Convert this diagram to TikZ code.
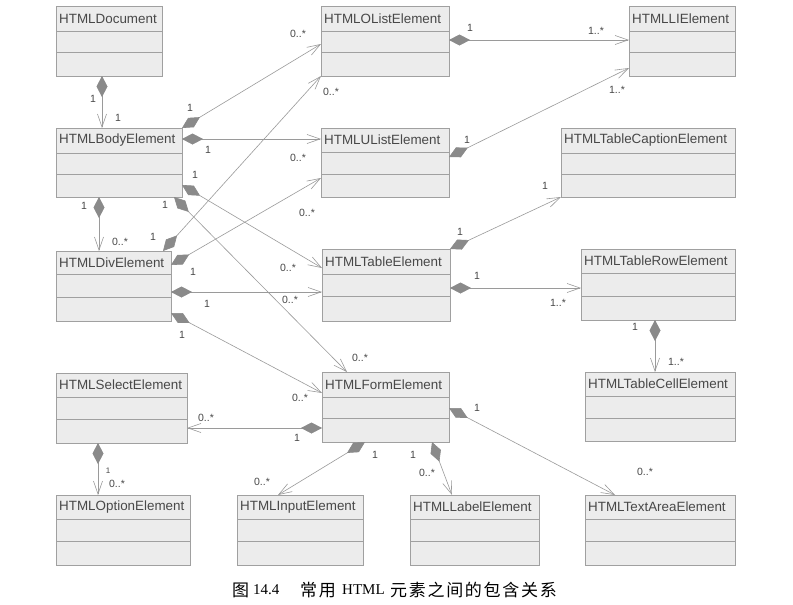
\documentclass[tikz,border=0pt]{standalone}
\usepackage{fontspec}
\setmainfont{Liberation Sans}
\newfontfamily\cjkcap[LetterSpace=10]{Noto Sans CJK SC}
\newfontfamily\serifcap{Liberation Serif}
\usetikzlibrary{arrows.meta}
\definecolor{boxfill}{HTML}{ECECEC}
\definecolor{boxline}{HTML}{A0A0A0}
\definecolor{txt}{HTML}{484848}
\definecolor{conn}{HTML}{9A9A9A}
\definecolor{dia}{HTML}{8A8A8A}
\tikzset{
  clsbox/.style={draw=boxline, fill=boxfill, line width=0.7pt, inner sep=0pt, outer sep=0pt},
  sepline/.style={draw=boxline, line width=0.6pt},
  clstext/.style={text=txt, font=\fontsize{13.4}{14}\selectfont, inner sep=0pt, anchor=west},
  comp/.style={draw=conn, line width=0.6pt,
    {Diamond[length=21pt,width=11pt,fill=dia,color=dia]}-{Straight Barb[length=13pt,width=9pt]}},
  lbl/.style={text=txt, font=\fontsize{10.5}{12}\selectfont, inner sep=0pt},
  smalllbl/.style={text=txt, font=\fontsize{8}{9}\selectfont, inner sep=0pt},
  capcjk/.style={text=black, font=\cjkcap\fontsize{17}{20}\selectfont, inner sep=0pt, anchor=west},
  capser/.style={text=black, font=\serifcap\fontsize{15}{18}\selectfont, inner sep=0pt, anchor=west},
}
% name, left, top, right, bottom, sep1, sep2, title
\newcommand\umlclass[8]{%
  \node[clsbox, anchor=north west, minimum width={(#4-#2)*1pt}, minimum height={(#5-#3)*1pt}] (#1) at (#2,#3) {};
  \draw[sepline] (#2,#6) -- (#4,#6);
  \draw[sepline] (#2,#7) -- (#4,#7);
  \node[clstext] (#1-t) at ({#2+3},{(#3+#6)/2}) {#8};
}
\newcommand\lab[4]{\node[lbl] (#1) at (#2,#3) {#4};}
\begin{document}
\begin{tikzpicture}[x=1pt,y=-1pt]
\useasboundingbox (0,0) rectangle (793,605);
\fill[white] (0,0) rectangle (793,605);

\umlclass{doc}{56}{6}{162}{76}{31}{52}{HTMLDocument}
\umlclass{body}{56}{128}{182}{197}{153}{174}{HTMLBodyElement}
\umlclass{olist}{321}{6}{449}{76}{31}{52}{HTMLOListElement}
\umlclass{ulist}{321}{128}{449}{197}{152}{174}{HTMLUListElement}
\umlclass{li}{629}{6}{735}{76}{31}{52}{HTMLLIElement}
\umlclass{caption}{561}{128}{735}{197}{153}{174}{HTMLTableCaptionElement}
\umlclass{div}{56}{251}{171}{321}{274}{297}{HTMLDivElement}
\umlclass{table}{322}{249}{450}{321}{274}{296}{HTMLTableElement}
\umlclass{row}{581}{249}{735}{320}{273}{296}{HTMLTableRowElement}
\umlclass{cell}{585}{372}{735}{441}{396}{418}{HTMLTableCellElement}
\umlclass{select}{56}{373}{187}{443}{397}{419}{HTMLSelectElement}
\umlclass{form}{322}{372}{449}{442}{397}{418}{HTMLFormElement}
\umlclass{option}{56}{495}{190}{565}{519}{541}{HTMLOptionElement}
\umlclass{input}{237}{495}{363}{565}{519}{541}{HTMLInputElement}
\umlclass{label}{410}{495}{539}{565}{519}{541}{HTMLLabelElement}
\umlclass{textarea}{585}{495}{735}{565}{519}{541}{HTMLTextAreaElement}

% connectors (diamond at owner, open arrow at part)
\draw[comp] ([xshift=46pt]doc.south west) -- ([xshift=46pt]body.north west);
\draw[comp] (body.north east) -- ([yshift=-38pt]olist.north west);
\draw[comp] ([yshift=-11pt]body.north east) -- ([yshift=-11pt]ulist.north west);
\draw[comp] ([yshift=-57pt]body.north east) -- ([yshift=-19pt]table.north west);
\draw[comp] ([xshift=-8pt]body.south east) -- ([xshift=25pt]form.north west);
\draw[comp] ([xshift=43pt]body.south west) -- ([xshift=43pt]div.north west);
\draw[comp] ([xshift=-8pt]div.north east) -- (olist.south west);
\draw[comp] ([yshift=-14pt]div.north east) -- ([yshift=19pt]ulist.south west);
\draw[comp] ([yshift=-41pt]div.north east) -- ([yshift=-43pt]table.north west);
\draw[comp] ([yshift=-62pt]div.north east) -- ([yshift=-21pt]form.north west);
\draw[comp] ([yshift=-56pt]form.north west) -- ([yshift=-55pt]select.north east);
\draw[comp] ([xshift=43pt]form.south west) -- ([xshift=41pt]input.north west);
\draw[comp] ([xshift=110pt]form.south west) -- ([xshift=42pt]label.north west);
\draw[comp] ([yshift=-36pt]form.north east) -- ([xshift=30pt]textarea.north west);
\draw[comp] (table.north east) -- (caption.south west);
\draw[comp] ([yshift=-39pt]table.north east) -- ([yshift=-39pt]row.north west);
\draw[comp] ([xshift=74pt]row.south west) -- ([xshift=70pt]cell.north west);
\draw[comp] ([yshift=-34pt]olist.north east) -- ([yshift=-34pt]li.north west);
\draw[comp] ([yshift=-29pt]ulist.north east) -- ([yshift=-62pt]li.north west);
\draw[comp] ([xshift=42pt]select.south west) -- ([xshift=42pt]option.north west);

% multiplicity labels
\lab{m1a}{93}{99}{1}
\lab{m1b}{118}{118}{1}
\lab{m2a}{190}{108}{1}
\lab{m2b}{298}{34}{0..*}
\lab{m3a}{208}{150}{1}
\lab{m3b}{298}{158}{0..*}
\lab{m4a}{195}{175}{1}
\lab{m4b}{288}{268}{0..*}
\lab{m5a}{165}{205}{1}
\lab{m5b}{360}{358}{0..*}
\lab{m6a}{84}{206}{1}
\lab{m6b}{120}{242}{0..*}
\lab{m7a}{153}{237}{1}
\lab{m7b}{331}{92}{0..*}
\lab{m8a}{193}{272}{1}
\lab{m8b}{307}{213}{0..*}
\lab{m9a}{207}{304}{1}
\lab{m9b}{290}{300}{0..*}
\lab{m10a}{182}{335}{1}
\lab{m10b}{300}{398}{0..*}
\lab{m11a}{297}{438}{1}
\lab{m11b}{206}{418}{0..*}
\lab{m12a}{375}{455}{1}
\lab{m12b}{262}{482}{0..*}
\lab{m13a}{413}{455}{1}
\lab{m13b}{427}{473}{0..*}
\lab{m14a}{477}{408}{1}
\lab{m14b}{645}{472}{0..*}
\lab{m15a}{460}{232}{1}
\lab{m15b}{545}{186}{1}
\lab{m16a}{477}{276}{1}
\lab{m16b}{558}{303}{1..*}
\lab{m17a}{635}{327}{1}
\lab{m17b}{676}{362}{1..*}
\lab{m18a}{470}{28}{1}
\lab{m18b}{596}{31}{1..*}
\lab{m19a}{467}{140}{1}
\lab{m19b}{617}{90}{1..*}
\node[smalllbl] (m20a) at (108,471) {1};
\lab{m20b}{117}{484}{0..*}

% caption
\node[capcjk] (cap1) at (232,590) {图};
\node[capser] (cap2) at (253,590) {14.4};
\node[capcjk] (cap3) at (300,590) {常用};
\node[capser] (cap4) at (342,590) {HTML};
\node[capcjk] (cap5) at (390,590) {元素之间的包含关系};
\end{tikzpicture}
\end{document}
